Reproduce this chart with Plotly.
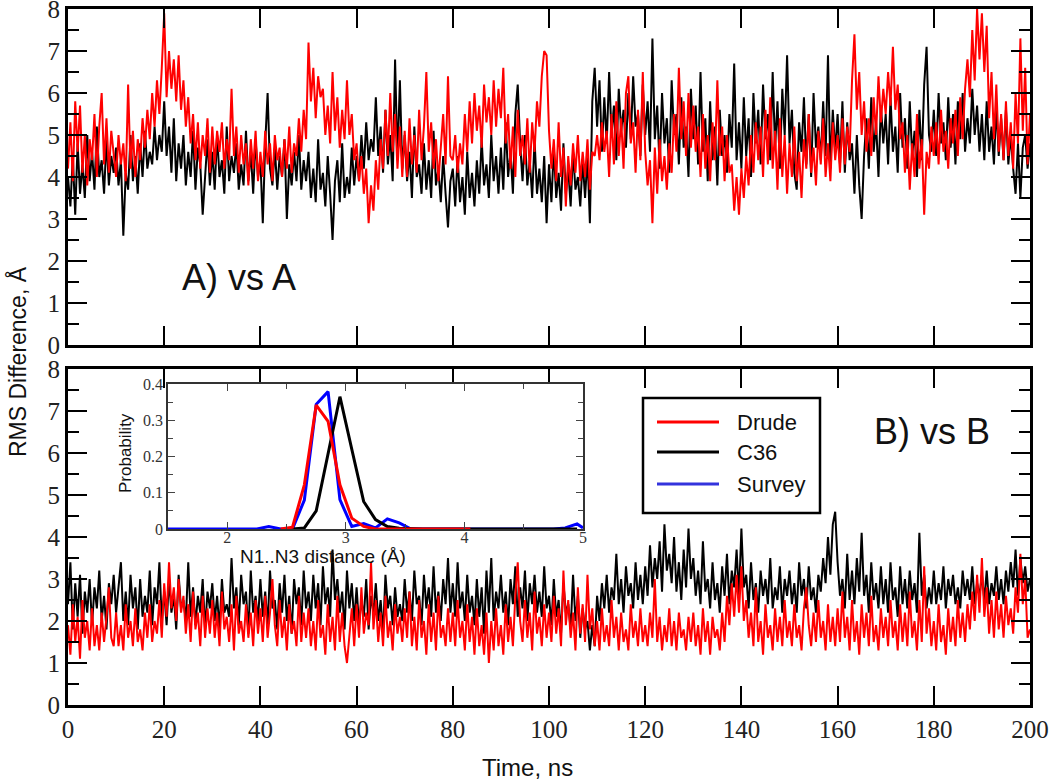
import numpy as np
import plotly.graph_objects as go

# ---------------- data: RMS difference vs time (0.5 ns sampling) ----------------
drude_a = [
 4.2, 5.3, 3.9, 5.8, 4.6, 5.7, 4.1, 5.0, 3.8, 4.9, 4.4, 5.5, 4.0, 5.2, 6.0, 4.3, 5.4, 4.1, 5.1, 4.5,
 4.0, 5.0, 4.3, 4.8, 3.9, 6.2, 4.2, 5.1, 4.0, 4.9, 4.4, 5.4, 4.7, 5.6, 4.9, 6.0, 5.2, 6.3, 5.5, 6.6,
 7.9, 5.9, 7.0, 6.1, 6.8, 5.8, 6.9, 5.6, 6.3, 5.2, 5.9, 4.8, 5.5, 4.4, 5.3, 4.2, 5.0, 4.5, 5.4, 4.1,
 5.2, 4.3, 5.1, 4.6, 5.3, 4.2, 4.9, 4.4, 6.1, 4.5, 5.2, 4.1, 5.0, 4.3, 4.8, 3.8, 4.9, 4.2, 5.1, 3.9,
 4.6, 4.0, 5.1, 4.3, 4.8, 3.9, 5.0, 4.4, 4.7, 4.0, 4.9, 4.2, 5.2, 4.1, 4.8, 4.5, 5.4, 4.6, 5.6, 4.9,
 7.2, 5.8, 6.6, 5.4, 6.4, 5.9, 6.1, 5.0, 5.7, 4.8, 6.5, 5.1, 5.9, 4.7, 5.6, 4.9, 6.3, 5.0, 5.5, 4.4,
 4.8, 3.9, 4.5, 3.6, 4.2, 2.9, 3.8, 3.2, 4.4, 3.7, 4.9, 4.2, 5.6, 4.5, 6.0, 4.6, 5.5, 4.2, 5.2, 4.0,
 5.1, 4.0, 5.4, 4.3, 5.0, 4.1, 5.6, 4.4, 5.2, 6.5, 4.6, 5.3, 4.2, 4.9, 3.9, 4.7, 5.5, 4.3, 6.4, 4.5,
 4.4, 5.0, 4.1, 4.8, 4.3, 5.5, 4.6, 5.8, 4.8, 6.0, 5.1, 5.7, 4.7, 6.2, 5.3, 5.9, 5.0, 6.3, 5.2, 6.1,
 5.4, 6.6, 4.8, 5.5, 4.2, 5.2, 4.0, 5.6, 4.5, 5.0, 4.3, 5.4, 4.1, 5.3, 4.6, 5.8, 5.2, 6.4, 7.0, 6.9,
 5.1, 4.2, 4.9, 3.9, 5.3, 4.0, 4.7, 3.3, 4.5, 3.8, 4.8, 4.1, 5.0, 3.9, 4.6, 4.0, 4.9, 3.7, 4.6, 4.5,
 5.0, 4.4, 5.3, 4.6, 5.1, 4.0, 5.5, 4.3, 5.8, 4.5, 5.4, 4.2, 6.0, 6.4, 4.8, 5.3, 4.1, 5.6, 4.4, 6.5,
 4.6, 3.8, 4.4, 2.9, 4.7, 3.6, 4.9, 3.9, 4.5, 3.7, 4.8, 4.1, 5.5, 4.6, 6.6, 4.9, 5.8, 4.5, 6.0, 4.7,
 5.7, 4.6, 5.2, 4.0, 5.5, 4.2, 5.0, 3.9, 5.3, 4.4, 6.3, 4.5, 5.2, 3.9, 5.0, 4.1, 4.3, 3.2, 4.0, 3.1,
 4.2, 3.5, 4.5, 3.8, 5.0, 4.1, 5.3, 4.4, 5.2, 4.0, 5.6, 4.3, 5.9, 4.2, 5.1, 3.7, 5.4, 4.0, 5.0, 3.6,
 4.8, 4.0, 5.2, 3.9, 4.6, 3.5, 4.9, 4.2, 5.5, 4.1, 4.7, 3.8, 5.1, 4.3, 5.4, 4.0, 4.8, 3.9, 5.3, 4.4,
 5.0, 4.1, 5.4, 4.3, 5.2, 4.6, 6.3, 7.4, 5.6, 6.5, 5.0, 5.8, 4.6, 5.4, 4.5, 5.9, 5.0, 6.4, 5.3, 6.1,
 5.5, 6.5, 5.7, 7.1, 5.6, 6.2, 4.9, 5.3, 4.1, 5.0, 3.7, 4.8, 4.0, 5.5, 4.2, 4.9, 3.1, 4.6, 4.2, 5.2,
 4.5, 5.3, 4.3, 5.6, 4.6, 5.1, 4.2, 5.4, 4.8, 5.6, 4.5, 5.9, 4.9, 6.1, 6.8, 5.9, 7.5, 6.3, 8.0, 6.8,
 7.9, 6.5, 7.6, 5.4, 6.5, 4.9, 6.2, 4.6, 5.5, 4.4, 5.8, 4.5, 5.3, 4.2, 6.0, 4.8, 7.3, 5.1, 6.6, 4.3,
 5.5]

c36_a = [
 4.0, 3.3, 4.5, 3.1, 4.8, 3.6, 4.3, 3.5, 5.0, 3.9, 4.6, 3.7, 5.2, 4.0, 4.4, 3.6, 4.9, 3.8, 4.5, 4.1,
 4.7, 3.8, 4.4, 2.6, 4.1, 3.7, 5.0, 3.9, 4.5, 3.6, 4.8, 4.0, 5.1, 4.2, 4.6, 4.3, 5.2, 4.4, 5.0, 4.6,
 5.8, 4.5, 5.2, 4.1, 5.4, 3.9, 4.8, 4.2, 5.0, 3.8, 4.6, 4.0, 5.1, 3.7, 4.7, 4.3, 3.1, 4.1, 4.9, 3.8,
 4.6, 3.7, 5.0, 4.0, 4.4, 3.6, 5.2, 3.9, 4.5, 4.1, 4.8, 3.7, 4.3, 3.8, 5.1, 3.9, 4.6, 3.6, 4.9, 4.0,
 4.4, 2.9, 4.8, 6.0, 4.2, 3.8, 4.7, 3.7, 4.5, 4.0, 4.9, 3.0, 4.3, 3.8, 4.6, 3.9, 5.0, 3.7, 4.4, 3.9,
 4.6, 3.5, 4.2, 3.4, 4.9, 3.7, 4.1, 3.3, 4.5, 3.6, 2.5, 3.9, 4.4, 3.4, 4.8, 3.5, 4.0, 3.6, 4.7, 3.8,
 4.5, 3.9, 5.0, 4.2, 5.3, 4.4, 4.9, 4.6, 5.9, 4.5, 5.2, 4.1, 5.6, 4.3, 5.0, 3.9, 6.8, 4.4, 6.3, 4.2,
 5.0, 3.9, 4.6, 3.5, 5.2, 4.0, 4.3, 3.6, 4.8, 3.7, 4.4, 3.5, 5.1, 3.8, 4.2, 3.4, 4.5, 3.6, 2.8, 3.9,
 4.2, 3.3, 4.5, 3.4, 4.0, 3.1, 4.6, 3.5, 4.1, 3.3, 4.4, 3.6, 4.9, 3.8, 4.3, 3.5, 5.0, 3.9, 4.5, 3.6,
 4.7, 3.7, 5.3, 4.0, 4.6, 3.6, 5.5, 6.2, 4.8, 3.9, 5.0, 3.8, 4.4, 3.5, 4.9, 3.6, 4.2, 3.4, 4.5, 2.9,
 4.3, 3.4, 4.7, 3.5, 4.1, 3.2, 4.8, 3.6, 4.2, 3.3, 4.6, 3.7, 4.0, 3.3, 4.4, 3.5, 4.5, 2.9, 5.8, 6.6,
 5.2, 6.3, 4.6, 5.9, 4.8, 6.5, 5.0, 5.7, 4.4, 6.1, 5.1, 5.6, 4.7, 6.0, 4.9, 6.4, 5.2, 5.5, 4.5, 6.2,
 5.0, 5.8, 4.6, 7.3, 4.9, 5.7, 4.2, 6.0, 4.8, 5.4, 4.1, 6.3, 5.0, 5.5, 4.3, 5.9, 4.7, 5.2, 4.0, 6.1,
 4.9, 5.7, 4.3, 6.5, 4.6, 5.4, 3.9, 5.8, 4.4, 5.2, 3.8, 5.6, 4.5, 5.0, 4.1, 5.5, 4.7, 6.7, 4.4, 5.3,
 4.2, 5.9, 4.5, 5.4, 4.0, 6.0, 4.8, 5.6, 4.3, 6.2, 4.9, 5.5, 4.4, 6.5, 4.7, 5.8, 4.2, 6.1, 5.0, 6.9,
 4.8, 5.6, 4.1, 3.7, 5.3, 4.6, 5.9, 4.3, 5.5, 4.0, 6.0, 4.7, 5.2, 4.4, 5.8, 4.5, 6.9, 4.2, 5.6, 4.6,
 5.5, 4.3, 5.8, 4.1, 5.3, 4.4, 4.8, 3.6, 5.0, 3.8, 3.0, 4.5, 5.4, 4.2, 5.9, 4.6, 5.3, 4.0, 5.7, 4.8,
 5.5, 4.3, 5.9, 4.6, 5.2, 4.1, 6.0, 4.7, 5.4, 4.2, 5.8, 4.5, 5.1, 4.0, 5.6, 4.4, 6.2, 7.1, 5.0, 4.6,
 5.6, 4.5, 6.0, 4.8, 5.3, 4.4, 5.9, 4.7, 5.5, 4.3, 5.8, 4.9, 6.0, 4.6, 5.4, 4.8, 6.1, 5.0, 5.7, 4.6,
 5.5, 4.4, 5.8, 4.6, 5.2, 4.3, 5.7, 4.5, 5.4, 4.4, 5.6, 4.3, 5.0, 4.2, 3.6, 4.8, 3.5, 4.7, 5.0, 4.2,
 4.8]

drude_b = [
 1.9, 1.2, 2.4, 1.5, 2.1, 1.1, 2.5, 1.6, 2.0, 1.3, 2.3, 1.4, 1.9, 1.3, 2.2, 1.5, 2.1, 2.8, 1.6, 1.4,
 2.2, 1.4, 1.9, 1.3, 2.4, 1.6, 2.0, 1.4, 2.3, 1.5, 1.8, 1.3, 2.2, 1.6, 2.4, 1.5, 2.0, 1.7, 2.5, 1.6,
 2.9, 2.1, 3.4, 2.3, 2.8, 2.0, 3.0, 2.2, 2.6, 1.7, 2.4, 1.5, 2.7, 1.8, 2.2, 1.4, 2.6, 1.6, 2.3, 1.7,
 2.5, 1.6, 2.2, 1.4, 2.7, 1.8, 2.1, 1.5, 2.4, 1.3, 2.6, 1.7, 2.0, 1.5, 2.4, 1.6, 2.2, 1.4, 2.5, 1.7,
 2.3, 1.5, 2.6, 1.6, 2.2, 3.0, 1.9, 1.4, 2.5, 1.6, 2.1, 1.3, 2.4, 1.7, 2.0, 1.4, 2.6, 1.5, 2.2, 1.6,
 2.3, 1.4, 2.0, 1.3, 2.5, 1.6, 1.9, 1.2, 2.4, 1.5, 2.1, 1.3, 2.6, 1.5, 2.2, 1.4, 1.0, 1.6, 2.3, 1.4,
 2.4, 1.6, 2.8, 1.7, 2.2, 1.9, 3.4, 1.8, 2.5, 1.5, 2.2, 1.4, 2.6, 1.6, 2.0, 1.3, 2.4, 1.7, 2.1, 1.5,
 2.3, 1.6, 2.7, 1.4, 2.1, 1.3, 2.5, 1.6, 2.0, 1.2, 2.4, 1.5, 2.2, 1.3, 2.6, 1.6, 1.9, 1.4, 2.3, 1.5,
 2.2, 1.4, 2.5, 1.6, 2.0, 1.3, 2.4, 1.5, 2.1, 1.2, 2.3, 1.4, 1.9, 1.2, 2.2, 1.0, 2.0, 1.3, 2.3, 1.4,
 1.9, 1.2, 2.4, 1.5, 2.1, 1.4, 2.6, 3.4, 2.0, 1.5, 2.5, 1.6, 2.2, 1.3, 2.7, 1.7, 2.1, 1.4, 2.4, 1.6,
 2.2, 1.5, 2.6, 1.7, 2.3, 1.4, 3.2, 1.9, 2.5, 1.6, 2.2, 1.3, 2.8, 1.7, 2.4, 1.5, 3.1, 1.8, 2.3, 1.4,
 2.0, 1.3, 2.3, 1.5, 1.9, 1.4, 2.5, 1.6, 2.1, 1.3, 2.2, 1.5, 1.8, 1.3, 2.4, 1.6, 2.0, 1.4, 2.3, 1.5,
 1.9, 1.4, 2.2, 1.6, 3.0, 1.5, 2.1, 1.3, 1.9, 1.5, 2.3, 1.4, 2.0, 1.3, 2.2, 1.6, 1.8, 1.3, 2.1, 1.5,
 2.2, 1.4, 1.9, 1.2, 2.3, 1.5, 2.0, 1.2, 2.1, 1.6, 1.8, 1.3, 2.2, 1.5, 2.6, 1.9, 2.9, 2.1, 3.1, 2.2,
 3.3, 2.0, 2.5, 1.6, 2.2, 1.4, 2.8, 1.5, 2.0, 1.2, 2.4, 1.6, 1.9, 1.3, 2.3, 1.5, 2.1, 1.4, 2.5, 1.6,
 2.0, 1.4, 2.4, 1.6, 1.9, 1.3, 2.3, 2.8, 1.9, 1.4, 2.2, 1.5, 2.5, 1.6, 2.0, 1.3, 2.4, 1.5, 2.1, 1.4,
 2.3, 1.5, 2.7, 1.6, 2.1, 1.3, 2.5, 1.5, 2.0, 1.2, 2.4, 1.6, 2.2, 1.4, 2.6, 1.5, 1.9, 1.3, 2.3, 1.6,
 2.1, 1.4, 2.5, 1.6, 2.0, 1.3, 2.4, 1.5, 2.2, 1.4, 2.7, 1.6, 2.0, 1.3, 2.5, 1.5, 3.3, 1.7, 2.3, 1.4,
 2.0, 1.3, 2.4, 1.5, 1.9, 1.2, 2.3, 1.5, 2.1, 1.4, 2.5, 1.6, 2.2, 1.5, 2.4, 1.8, 2.7, 2.0, 3.1, 2.2,
 3.5, 2.1, 2.8, 1.7, 2.5, 1.6, 2.7, 1.8, 2.4, 1.6, 2.6, 1.9, 2.3, 1.7, 2.8, 2.2, 3.6, 2.4, 3.0, 1.6,
 1.8]

c36_b = [
 2.4, 3.4, 1.8, 2.9, 2.1, 3.1, 1.7, 2.7, 2.2, 3.0, 1.9, 2.8, 2.3, 3.2, 2.0, 2.6, 1.8, 2.9, 2.4, 3.1,
 2.2, 2.9, 3.4, 2.0, 2.7, 1.9, 3.1, 2.3, 2.8, 1.8, 3.0, 2.1, 2.6, 2.2, 3.2, 1.9, 2.8, 2.4, 3.4, 2.0,
 2.7, 1.9, 3.0, 2.2, 2.6, 1.8, 3.1, 2.3, 2.5, 2.0, 3.4, 2.1, 2.8, 1.9, 2.6, 2.2, 3.0, 1.8, 2.7, 2.3,
 2.9, 2.0, 2.6, 1.8, 3.0, 2.2, 2.4, 2.1, 3.5, 2.3, 2.8, 1.9, 3.1, 2.4, 2.7, 1.7, 3.2, 2.2, 2.6, 2.0,
 3.0, 2.1, 2.7, 1.9, 3.2, 2.3, 2.5, 1.8, 2.9, 2.2, 3.1, 2.0, 2.6, 1.7, 3.0, 2.4, 2.8, 1.9, 3.2, 2.3,
 2.7, 2.0, 3.1, 2.3, 2.9, 1.9, 3.3, 2.4, 2.8, 2.1, 3.7, 2.5, 3.0, 2.2, 2.7, 1.8, 3.2, 2.3, 2.9, 2.0,
 2.8, 1.9, 2.5, 2.1, 3.0, 1.8, 2.6, 2.2, 2.9, 2.0, 2.5, 1.7, 3.1, 2.3, 2.6, 1.9, 2.8, 2.1, 2.4, 2.0,
 3.0, 2.2, 2.7, 2.0, 3.2, 2.4, 2.6, 1.9, 3.1, 2.3, 2.8, 2.1, 3.3, 2.2, 2.7, 2.0, 3.0, 2.4, 3.5, 2.2,
 2.9, 2.1, 3.4, 2.3, 2.7, 2.0, 3.1, 2.2, 2.6, 1.9, 3.0, 2.1, 2.8, 1.7, 3.2, 2.2, 3.5, 2.0, 2.7, 2.3,
 3.1, 2.2, 2.7, 1.9, 3.0, 2.4, 3.3, 2.1, 2.8, 2.3, 3.2, 2.0, 2.9, 2.4, 3.1, 2.2, 2.7, 2.1, 3.3, 2.3,
 2.6, 1.9, 3.0, 2.1, 2.5, 1.7, 2.9, 2.2, 2.4, 1.8, 3.1, 2.0, 2.6, 1.6, 2.3, 1.8, 2.0, 1.3, 1.9, 1.4,
 2.6, 2.0, 2.9, 2.3, 3.1, 2.2, 2.8, 2.5, 3.6, 2.4, 3.0, 2.2, 3.3, 2.6, 2.9, 2.3, 3.4, 2.5, 3.1, 2.4,
 3.3, 2.6, 3.8, 2.8, 3.5, 3.0, 3.9, 2.7, 4.3, 3.2, 3.6, 2.9, 4.0, 2.7, 3.4, 2.5, 3.7, 2.8, 4.2, 3.0,
 3.5, 2.6, 3.2, 2.4, 3.9, 2.7, 3.0, 2.3, 3.4, 2.5, 2.9, 2.2, 3.3, 2.6, 3.6, 2.4, 3.2, 2.8, 3.7, 2.6,
 4.2, 2.8, 3.1, 2.3, 3.4, 2.5, 2.9, 2.2, 3.2, 2.6, 3.0, 2.4, 3.5, 2.3, 2.8, 2.5, 3.3, 2.2, 3.0, 2.6,
 3.2, 2.4, 2.9, 2.2, 3.4, 2.6, 3.0, 2.3, 3.3, 2.5, 2.8, 2.2, 3.1, 2.7, 3.5, 2.9, 4.0, 3.1, 4.3, 4.6,
 3.4, 2.6, 3.0, 2.3, 3.6, 2.5, 3.2, 2.4, 3.5, 2.7, 4.1, 2.6, 3.1, 2.2, 3.4, 2.5, 2.9, 2.3, 3.3, 2.4,
 3.0, 2.2, 3.4, 2.5, 2.8, 2.1, 3.3, 2.4, 3.0, 2.3, 3.2, 2.5, 2.9, 2.2, 4.1, 2.6, 3.1, 2.3, 2.8, 2.4,
 3.2, 2.4, 2.9, 2.5, 3.3, 2.3, 3.0, 2.6, 3.1, 2.4, 2.8, 2.3, 3.2, 2.6, 3.0, 2.5, 3.3, 2.4, 2.9, 2.6,
 3.1, 2.5, 3.2, 2.4, 2.9, 2.6, 3.3, 2.5, 3.0, 2.4, 3.2, 2.7, 3.4, 2.8, 3.7, 2.6, 3.5, 2.9, 3.3, 2.7,
 3.0]

# ---------------- inset: N1..N3 distance distributions ----------------
dist_drude = [2.45, 2.55, 2.65, 2.75, 2.85, 2.95, 3.05, 3.15, 3.25, 3.35, 3.45, 3.55, 3.65, 3.75, 3.85, 3.95, 4.05]
prob_drude = [0.0, 0.005, 0.122, 0.342, 0.297, 0.122, 0.030, 0.007, 0.0, 0.0, 0.0, 0.0, 0.0, 0.0, 0.0, 0.0, 0.0]

dist_c36 = [2.55, 2.65, 2.75, 2.85, 2.95, 3.05, 3.15, 3.25, 3.35, 3.45, 3.55, 3.65, 3.75, 3.85, 3.95, 4.05, 4.15,
            4.25, 4.35, 4.45, 4.55, 4.65, 4.75, 4.85, 4.95]
prob_c36 = [0.0, 0.003, 0.050, 0.210, 0.365, 0.220, 0.076, 0.026, 0.007, 0.002, 0.0, 0.0, 0.0, 0.0, 0.0, 0.0, 0.0,
            0.0, 0.0, 0.0, 0.0, 0.0, 0.0, 0.0, 0.0]

dist_survey = [1.5, 1.65, 1.75, 1.85, 1.95, 2.05, 2.15, 2.25, 2.35, 2.45, 2.55, 2.65, 2.75, 2.85, 2.95, 3.05,
               3.15, 3.25, 3.35, 3.45, 3.55, 3.65, 3.75, 3.85, 3.95, 4.05, 4.15, 4.25, 4.35, 4.45, 4.55, 4.65,
               4.75, 4.85, 4.95, 5.0]
prob_survey = [0.0, 0.0, 0.0, 0.0, 0.0, 0.0, 0.0, 0.0, 0.007, 0.0, 0.0, 0.080, 0.344, 0.379, 0.081, 0.007,
               0.015, 0.003, 0.028, 0.017, 0.0, 0.0, 0.0, 0.0, 0.0, 0.0, 0.0, 0.0, 0.0, 0.0, 0.0, 0.0,
               0.0, 0.003, 0.014, 0.003]

series_names = ["Drude", "C36", "Survey"]

# ---------------- figure ----------------
t_a_red = np.linspace(0, 200, len(drude_a))
t_a_blk = np.linspace(0, 200, len(c36_a))
t_b_red = np.linspace(0, 200, len(drude_b))
t_b_blk = np.linspace(0, 200, len(c36_b))

fig = go.Figure()
LW = 2.0
fig.add_trace(go.Scatter(x=t_a_blk, y=c36_a, mode="lines", line=dict(color="black", width=LW),
                         xaxis="x", yaxis="y", showlegend=False))
fig.add_trace(go.Scatter(x=t_a_red, y=drude_a, mode="lines", line=dict(color="#ff0000", width=LW),
                         xaxis="x", yaxis="y", showlegend=False))
fig.add_trace(go.Scatter(x=t_b_blk, y=c36_b, mode="lines", line=dict(color="black", width=LW),
                         xaxis="x2", yaxis="y2", showlegend=False))
fig.add_trace(go.Scatter(x=t_b_red, y=drude_b, mode="lines", line=dict(color="#ff0000", width=LW),
                         xaxis="x2", yaxis="y2", showlegend=False))

fig.add_trace(go.Scatter(x=dist_survey, y=prob_survey, mode="lines", line=dict(color="#0000ff", width=3),
                         xaxis="x3", yaxis="y3", showlegend=False))
fig.add_trace(go.Scatter(x=dist_c36, y=prob_c36, mode="lines", line=dict(color="black", width=3),
                         xaxis="x3", yaxis="y3", showlegend=False))
fig.add_trace(go.Scatter(x=dist_drude, y=prob_drude, mode="lines", line=dict(color="#ff0000", width=3),
                         xaxis="x3", yaxis="y3", showlegend=False))

PLOT_L, PLOT_R, PLOT_T, PLOT_B = 68, 1030, 9, 705
PW, PH = PLOT_R - PLOT_L, PLOT_B - PLOT_T


def px(xp):
    return (xp - PLOT_L) / PW


def py(yp):
    return (PLOT_B - yp) / PH


serif = "Liberation Serif"
tickfont = dict(family=serif, size=25, color="#222")
main_ax = dict(showline=True, linewidth=3, linecolor="black", mirror="allticks", ticks="inside",
               ticklen=19, tickwidth=2, tickcolor="black", showgrid=False, zeroline=False, tickfont=tickfont,
               automargin=False, ticklabeloverflow="allow")
xa = dict(main_ax, range=[0, 200], tick0=0, dtick=20)
ya = dict(main_ax, range=[0, 8], tick0=0, dtick=1,
          minor=dict(ticks="inside", dtick=0.5, ticklen=11, tickwidth=2, tickcolor="black", showgrid=False))

inset_font = dict(family=serif, size=16, color="#333")
inset_ax = dict(showline=True, linewidth=1.5, linecolor="#333", mirror="allticks", ticks="inside",
                ticklen=7, tickwidth=1, tickcolor="#444", showgrid=False, zeroline=False, tickfont=inset_font,
                automargin=False, ticklabeloverflow="allow")

fig.update_layout(
    width=1050, height=781,
    margin=dict(l=PLOT_L, r=1050 - PLOT_R, t=PLOT_T, b=781 - PLOT_B, autoexpand=False),
    paper_bgcolor="white", plot_bgcolor="white",
    font=dict(family=serif, size=25, color="#222"),
    xaxis=dict(xa, domain=[0, 1], anchor="y", showticklabels=False),
    yaxis=dict(ya, domain=[py(345), 1], anchor="x"),
    xaxis2=dict(xa, domain=[0, 1], anchor="y2", showticklabels=True),
    yaxis2=dict(ya, domain=[0, py(369)], anchor="x2"),
    xaxis3=dict(inset_ax, domain=[px(168), px(583)], anchor="y3", range=[1.5, 5], tick0=0, dtick=1,
                minor=dict(ticks="inside", dtick=0.5, ticklen=5, tickwidth=1, tickcolor="#444")),
    yaxis3=dict(inset_ax, domain=[py(529), py(384)], anchor="x3", range=[0, 0.4], tick0=0, dtick=0.1,
                minor=dict(ticks="inside", dtick=0.05, ticklen=5, tickwidth=1, tickcolor="#444")),
    showlegend=False,
)
try:
    fig.layout.xaxis3.ticklabelstandoff = -7
except (ValueError, AttributeError):
    pass

sans = "Liberation Sans"


def label(text, xp, yp, size, angle=0, xanchor="center"):
    return dict(text=text, x=px(xp), y=py(yp), xref="paper", yref="paper", showarrow=False,
                xanchor=xanchor, yanchor="middle", textangle=angle,
                font=dict(family=sans, size=size, color="#111"))


ann = [
    label("RMS Difference, Å", 17, 362, 23, angle=-90),
    label("Time, ns", 527, 767, 24),
    label("A) vs A", 239, 277, 36),
    label("B) vs B", 932, 431, 36),
    label("Probability", 125, 453, 17, angle=-90),
    label("N1..N3 distance (Å)", 323, 556, 19),
]

# custom legend box
shapes = [dict(type="rect", xref="paper", yref="paper", x0=px(643), x1=px(820), y0=py(513), y1=py(398),
               line=dict(color="black", width=2.5), fillcolor="white", layer="above")]
rows_y = [422, 452, 484]
leg_colors = ["#ff0000", "#000000", "#3333dd"]
for name, col, ry in zip(series_names, leg_colors, rows_y):
    shapes.append(dict(type="line", xref="paper", yref="paper", x0=px(657), x1=px(719), y0=py(ry), y1=py(ry),
                       line=dict(color=col, width=3), layer="above"))
    ann.append(label(name, 735, ry, 22, xanchor="left"))

fig.update_layout(annotations=ann, shapes=shapes)
fig.write_html("out.html", config={"displayModeBar": False},
               post_script="document.body.style.margin='0';document.body.style.overflow='hidden';")
